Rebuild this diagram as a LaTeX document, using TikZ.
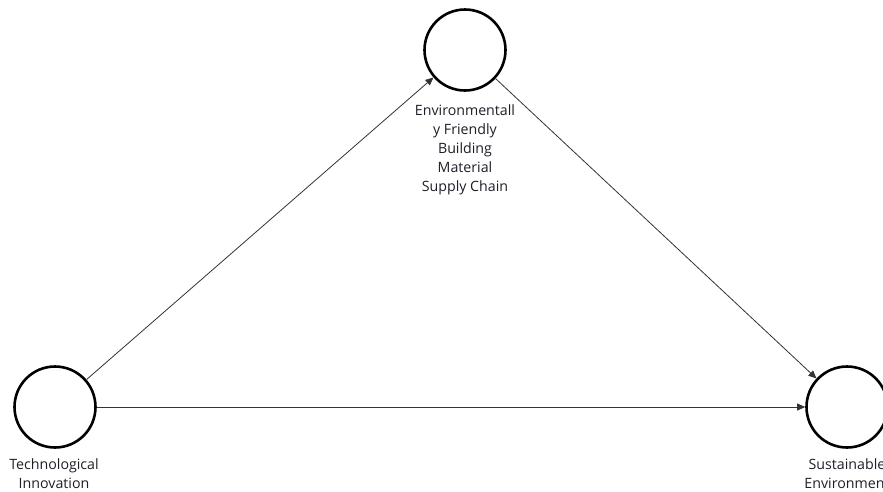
\documentclass[tikz,border=0pt]{standalone}
\usepackage{fontspec}
\setmainfont{Open Sans}
\usetikzlibrary{arrows.meta}
\definecolor{txt}{HTML}{1E1E28}
\begin{document}
\begin{tikzpicture}[x=1pt,y=-1pt,
  var/.style={circle,draw=black,line width=2.6pt,minimum size=81pt,inner sep=0pt},
  lab/.style={text=txt,font=\fontsize{14.2}{19}\selectfont,align=center,anchor=north},
  conn/.style={draw=black!80,line width=0.8pt,-{Triangle[length=8pt,width=7pt]}}]
\useasboundingbox (0,0) rectangle (883,491);
\node[var] (ti) at (55,407) {};
\node[var] (ef) at (465,50) {};
\node[var] (se) at (847,407) {};
\node[lab] (tiL) at (54,455) {Technological\\Innovation};
\node[lab] (efL) at (465,101) {Environmentall\\y Friendly\\Building\\Material\\Supply Chain};
\node[lab] (seL) at (847,455) {Sustainable\\Environment};
\draw[conn] (ti) -- (ef);
\draw[conn] (ef) -- (se);
\draw[conn] (ti) -- (se);
\end{tikzpicture}
\end{document}
